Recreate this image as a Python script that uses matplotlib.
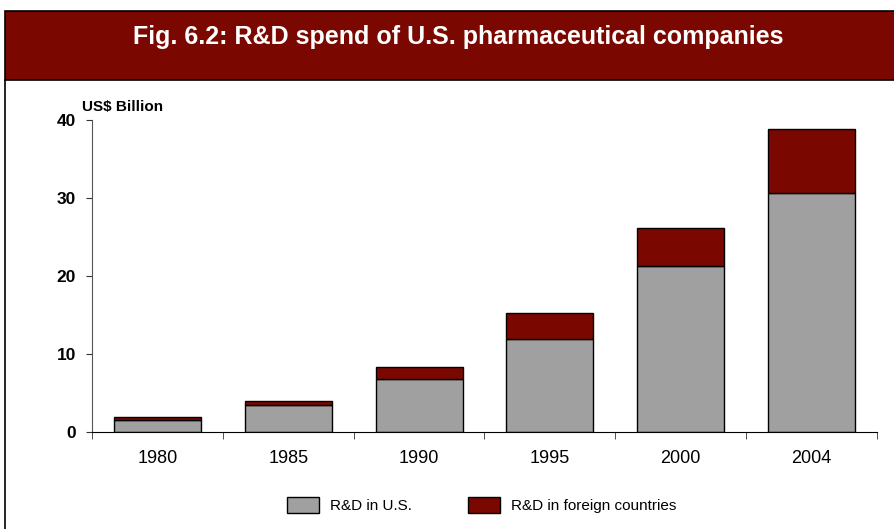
import matplotlib
matplotlib.use("Agg")
import matplotlib.pyplot as plt
from matplotlib.patches import Rectangle
from matplotlib.lines import Line2D
import numpy as np

years = ["1980", "1985", "1990", "1995", "2000", "2004"]
rd_us = [1.5, 3.4, 6.8, 11.9, 21.3, 30.6]
rd_foreign = [0.4, 0.6, 1.5, 3.3, 4.8, 8.2]
y_ticks = [0, 10, 20, 30, 40]

RED = "#7B0800"
GRAY = "#A0A0A0"

plt.rcParams['font.family'] = ['Liberation Sans', 'DejaVu Sans']

W, H = 895, 529
fig = plt.figure(figsize=(W / 100, H / 100), dpi=100)

def fx(px):
    return px / W

def fy(py):
    return 1 - py / H

# Banner
fig.patches.append(Rectangle((fx(5), fy(80)), fx(W) - fx(5) + 0.01, fy(11) - fy(80),
                             transform=fig.transFigure, facecolor=RED,
                             edgecolor="black", linewidth=1.2, zorder=0))
fig.lines.append(Line2D([fx(5), fx(5)], [fy(80), 0], transform=fig.transFigure,
                        color="black", linewidth=1.2))
fig.text(fx(458), fy(37), "Fig. 6.2: R&D spend of U.S. pharmaceutical companies",
         color="white", fontsize=18, fontweight="bold", ha="center", va="center")

ax = fig.add_axes([fx(92), fy(432), fx(877) - fx(92), fy(120) - fy(432)])
x = np.arange(len(years))
bw = 0.665
ax.bar(x, rd_us, width=bw, color=GRAY, edgecolor="black", linewidth=1.0,
       label="R&D in U.S.")
ax.bar(x, rd_foreign, width=bw, bottom=rd_us, color=RED, edgecolor="black",
       linewidth=1.0, label="R&D in foreign countries")

ax.set_xlim(-0.5, len(years) - 0.5)
ax.set_ylim(0, 40)
ax.set_yticks(y_ticks)
ax.set_yticklabels([str(v) for v in y_ticks], fontsize=12.5, fontweight="bold")
ax.set_xticks(x)
ax.set_xticklabels(years, fontsize=13)
ax.tick_params(axis="x", length=0, pad=13)
ax.set_xticks(np.arange(len(years) + 1) - 0.5, minor=True)
ax.tick_params(axis="x", which="minor", length=5, direction="out", color="#333333")
ax.tick_params(axis="y", length=4.5, direction="out", color="#333333", pad=7)
for s in ["top", "right"]:
    ax.spines[s].set_visible(False)
ax.spines["left"].set_color("#555555")
ax.spines["bottom"].set_color("black")

fig.text(fx(82), fy(107), "US$ Billion", fontsize=11, fontweight="bold",
         ha="left", va="center")

leg = fig.legend(loc="center", bbox_to_anchor=(fx(481.5), fy(505)), ncol=2,
                 frameon=False, fontsize=11, handlelength=2.1, handleheight=1.25,
                 columnspacing=3.7, handletextpad=0.72)

fig.savefig("out.png", dpi=100)
